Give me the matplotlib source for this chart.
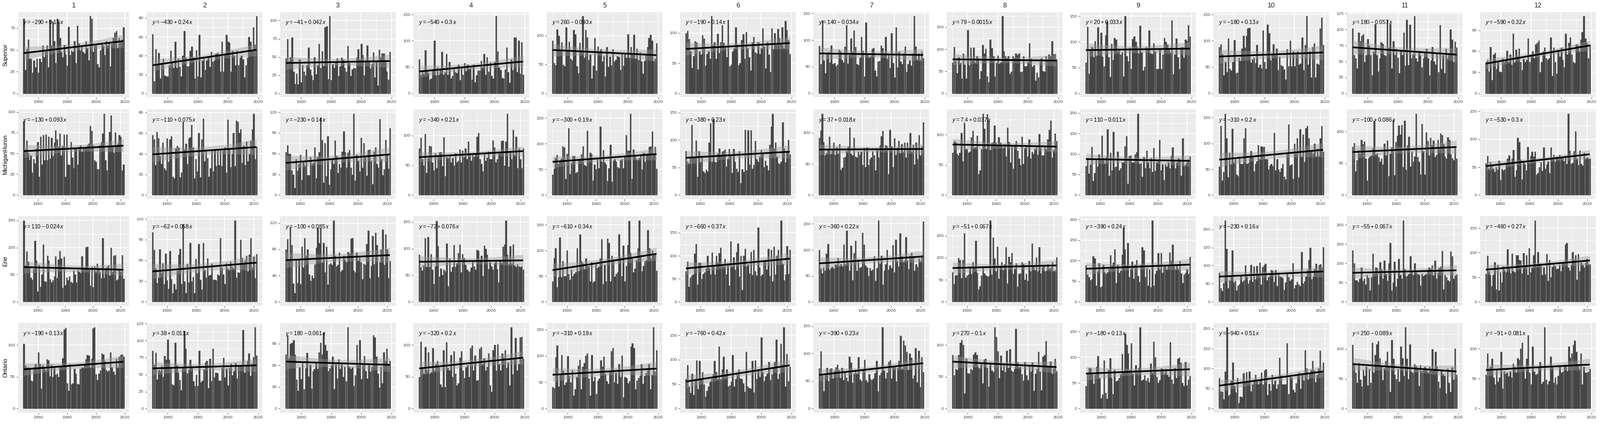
import numpy as np
import matplotlib
matplotlib.use("Agg")
import matplotlib.pyplot as plt
from matplotlib.ticker import MultipleLocator, FixedLocator

plt.rcParams['font.family'] = ['Liberation Sans', 'DejaVu Sans']
plt.rcParams['mathtext.fontset'] = 'custom'
plt.rcParams['mathtext.rm'] = 'Liberation Sans'
plt.rcParams['mathtext.it'] = 'Liberation Sans:italic'

lakes = ["Superior", "MichiganHuron", "Erie", "Ontario"]
months = [str(m) for m in range(1, 13)]
start_year = 1950
x_major = [1960, 1980, 2000, 2020]
x_minor = [1950, 1970, 1990, 2010]

# ---------------- Superior (1950-2019) ----------------
superior = [
    [86, 27, 51, 62, 40, 40, 24, 38, 30, 40, 24, 40, 36, 55, 42, 50, 55, 30, 85, 55,
     83, 60, 35, 86, 83, 64, 48, 42, 56, 45, 32, 77, 44, 49, 48, 60, 35, 78, 58, 50,
     55, 48, 46, 60, 52, 38, 89, 86, 48, 55, 57, 34, 30, 50, 58, 55, 44, 60, 55, 58,
     31, 57, 64, 70, 72, 52, 64, 60, 62, 76],
    [63, 13, 47, 30, 43, 16, 32, 37, 19, 18, 18, 30, 45, 34, 27, 55, 27, 37, 28, 18,
     40, 66, 38, 29, 29, 45, 50, 38, 16, 46, 18, 62, 17, 35, 38, 25, 35, 39, 28, 44,
     34, 35, 42, 43, 40, 23, 55, 23, 42, 62, 55, 54, 23, 45, 40, 30, 45, 30, 38, 40,
     36, 17, 30, 38, 60, 55, 45, 70, 52, 82],
    [48, 75, 44, 50, 77, 30, 13, 27, 12, 47, 15, 39, 30, 25, 39, 63, 33, 25, 18, 50,
     26, 39, 68, 35, 58, 38, 91, 92, 20, 106, 18, 40, 35, 43, 48, 24, 37, 49, 46, 35,
     30, 65, 42, 24, 33, 35, 34, 50, 61, 46, 68, 53, 25, 45, 66, 45, 34, 40, 56, 22,
     44, 11, 60, 50, 55, 55, 45, 30, 19, 57],
    [65, 35, 40, 36, 82, 45, 38, 26, 28, 44, 100, 34, 50, 35, 45, 79, 35, 40, 75, 35,
     60, 28, 33, 48, 40, 38, 55, 25, 50, 35, 58, 42, 55, 47, 51, 26, 55, 21, 34, 44,
     44, 62, 50, 75, 35, 69, 41, 59, 33, 28, 60, 147, 80, 50, 45, 29, 28, 46, 87, 40,
     20, 65, 45, 107, 107, 40, 100, 37, 97, 35],
    [92, 53, 49, 111, 100, 75, 89, 50, 47, 115, 75, 90, 60, 57, 110, 103, 47, 35, 88, 75,
     134, 62, 110, 97, 58, 67, 26, 48, 96, 40, 81, 70, 77, 55, 65, 29, 80, 46, 64, 49,
     77, 55, 58, 65, 63, 41, 70, 48, 70, 62, 103, 62, 80, 68, 102, 60, 78, 58, 71, 55,
     34, 56, 68, 80, 96, 102, 92, 56, 60, 87],
    [100, 103, 90, 70, 42, 62, 87, 85, 40, 70, 64, 96, 91, 46, 65, 70, 57, 128, 80, 85,
     57, 99, 67, 85, 113, 84, 76, 60, 122, 45, 48, 70, 75, 110, 80, 47, 50, 88, 98, 57,
     102, 75, 60, 38, 85, 94, 68, 66, 85, 65, 75, 108, 78, 41, 85, 64, 35, 108, 73, 100,
     80, 107, 92, 82, 110, 75, 120, 105, 88, 65],
    [89, 55, 137, 62, 38, 75, 78, 58, 90, 55, 57, 51, 54, 82, 79, 63, 58, 88, 128, 56,
     72, 103, 78, 118, 87, 55, 53, 67, 106, 80, 32, 133, 72, 67, 70, 83, 85, 43, 32, 60,
     61, 90, 85, 75, 106, 65, 72, 48, 113, 57, 30, 124, 49, 78, 60, 55, 75, 88, 40, 55,
     62, 52, 75, 145, 88, 64, 75, 63, 78, 66],
    [70, 105, 74, 46, 82, 69, 34, 91, 65, 34, 144, 64, 104, 74, 104, 70, 85, 80, 32, 51,
     110, 90, 102, 38, 25, 122, 103, 85, 38, 69, 86, 68, 70, 175, 95, 85, 80, 84, 44, 49,
     85, 81, 91, 87, 91, 48, 49, 85, 62, 62, 71, 113, 78, 60, 64, 29, 47, 36, 71, 80,
     50, 49, 85, 77, 88, 85, 118, 88, 89, 77],
    [60, 129, 38, 86, 90, 70, 101, 73, 128, 84, 118, 71, 53, 113, 140, 70, 32, 96, 65, 108,
     105, 82, 84, 75, 80, 33, 150, 72, 62, 89, 47, 106, 111, 100, 90, 78, 132, 80, 44, 52,
     90, 85, 122, 78, 77, 97, 82, 47, 48, 87, 48, 76, 108, 100, 95, 88, 80, 142, 37, 75,
     107, 70, 48, 86, 90, 69, 105, 102, 133, 111],
    [88, 93, 75, 34, 60, 40, 105, 47, 43, 60, 101, 38, 39, 68, 62, 85, 110, 87, 110, 124,
     125, 59, 65, 68, 58, 92, 50, 55, 48, 120, 60, 47, 131, 115, 63, 75, 93, 72, 85, 45,
     70, 54, 52, 46, 26, 84, 52, 100, 52, 80, 52, 78, 80, 55, 57, 107, 45, 92, 147, 55,
     80, 30, 88, 95, 30, 57, 55, 124, 144, 92],
    [102, 60, 55, 39, 95, 82, 90, 93, 49, 60, 85, 75, 60, 28, 65, 109, 60, 34, 55, 80,
     78, 60, 58, 115, 72, 109, 39, 82, 60, 70, 56, 32, 68, 60, 95, 43, 115, 44, 108, 55,
     62, 121, 55, 50, 65, 60, 41, 55, 65, 70, 55, 28, 52, 73, 50, 45, 63, 33, 107, 38,
     60, 32, 70, 55, 60, 100, 84, 49, 81, 72],
    [45, 47, 31, 66, 19, 55, 58, 35, 45, 31, 30, 50, 45, 48, 61, 45, 55, 41, 85, 44,
     62, 52, 64, 45, 33, 49, 45, 48, 78, 45, 55, 60, 50, 70, 72, 75, 30, 45, 60, 65,
     50, 48, 50, 80, 25, 65, 45, 28, 60, 52, 65, 48, 37, 85, 55, 72, 80, 55, 45, 43,
     70, 68, 60, 77, 87, 110, 78, 72, 50, 70],
]

# ---------------- Michigan-Huron (1950-2022) ----------------
michigan_huron = [
    [89, 55, 66, 51, 42, 48, 27, 43, 38, 56, 64, 22, 70, 37, 72, 42, 73, 42, 70, 44,
     69, 47, 63, 78, 67, 58, 74, 48, 59, 73, 22, 73, 37, 36, 64, 45, 32, 57, 57, 37,
     58, 60, 52, 56, 57, 58, 60, 62, 83, 77, 60, 42, 40, 31, 31, 60, 64, 74, 98, 42,
     30, 60, 76, 96, 58, 51, 75, 60, 62, 72, 70, 30, 37],
    [58, 54, 29, 61, 55, 38, 30, 51, 26, 24, 55, 32, 54, 57, 18, 16, 45, 48, 46, 17,
     22, 71, 44, 50, 30, 55, 56, 68, 46, 16, 35, 23, 60, 17, 54, 74, 33, 43, 36, 18,
     26, 43, 23, 44, 28, 43, 29, 44, 28, 43, 46, 22, 73, 45, 27, 40, 60, 28, 72, 71,
     60, 64, 31, 48, 29, 52, 33, 40, 53, 64, 79, 35, 47],
    [62, 72, 60, 60, 36, 30, 10, 52, 35, 45, 58, 22, 48, 43, 66, 29, 29, 55, 45, 47,
     69, 24, 55, 62, 112, 80, 18, 75, 27, 85, 15, 37, 52, 45, 79, 57, 32, 45, 40, 63,
     92, 62, 40, 61, 65, 40, 30, 118, 21, 58, 50, 34, 83, 40, 75, 56, 28, 65, 66, 50,
     16, 63, 69, 45, 40, 110, 52, 29, 37, 80, 58, 38, 97],
    [78, 96, 60, 50, 103, 37, 62, 83, 82, 55, 42, 70, 45, 65, 72, 72, 49, 97, 32, 64,
     62, 67, 55, 62, 50, 70, 55, 58, 77, 55, 75, 64, 78, 60, 90, 70, 58, 70, 64, 70,
     98, 104, 60, 52, 40, 70, 58, 63, 73, 60, 60, 92, 80, 55, 60, 73, 70, 91, 92, 50,
     90, 137, 48, 72, 60, 110, 68, 98, 45, 78, 60, 45, 78],
    [40, 51, 72, 78, 61, 65, 71, 95, 93, 32, 81, 130, 41, 63, 76, 76, 43, 45, 68, 70,
     80, 95, 59, 57, 125, 68, 83, 80, 28, 60, 50, 70, 52, 134, 65, 88, 64, 60, 27, 52,
     98, 26, 67, 70, 65, 55, 52, 68, 70, 52, 76, 117, 87, 87, 159, 32, 89, 75, 70, 68,
     72, 79, 50, 83, 65, 77, 82, 94, 95, 124, 80, 94, 51],
    [80, 60, 58, 70, 127, 67, 68, 99, 33, 80, 60, 70, 43, 40, 46, 43, 95, 130, 60, 138,
     60, 59, 75, 85, 70, 79, 80, 83, 52, 65, 84, 73, 40, 84, 60, 48, 42, 80, 22, 47,
     42, 119, 45, 118, 56, 118, 48, 55, 98, 65, 60, 70, 82, 75, 51, 62, 54, 45, 91, 124,
     148, 85, 95, 70, 58, 57, 60, 132, 85, 59, 80, 100, 74],
    [92, 104, 131, 85, 64, 67, 73, 94, 66, 74, 84, 65, 77, 66, 82, 41, 44, 60, 61, 71,
     78, 108, 66, 64, 92, 62, 60, 70, 65, 70, 48, 76, 45, 77, 48, 58, 60, 71, 64, 40,
     75, 60, 80, 95, 103, 72, 80, 78, 34, 105, 78, 45, 91, 65, 76, 87, 67, 82, 70, 84,
     60, 84, 75, 100, 70, 81, 49, 84, 58, 96, 64, 78, 117],
    [70, 90, 88, 68, 66, 70, 103, 56, 120, 76, 76, 70, 72, 96, 106, 78, 80, 98, 35, 41,
     76, 135, 110, 76, 134, 123, 75, 86, 88, 115, 87, 83, 96, 87, 82, 78, 84, 64, 112, 88,
     54, 83, 44, 82, 90, 74, 60, 50, 97, 52, 78, 80, 64, 92, 60, 72, 68, 76, 80, 67,
     101, 78, 66, 66, 80, 76, 92, 108, 123, 62, 75, 102, 90],
    [71, 90, 53, 75, 118, 35, 54, 88, 70, 99, 86, 145, 90, 78, 93, 161, 48, 103, 60, 154,
     68, 70, 106, 60, 65, 80, 80, 119, 144, 28, 95, 97, 80, 80, 100, 105, 199, 76, 78, 45,
     93, 66, 108, 80, 65, 90, 56, 115, 59, 80, 82, 135, 60, 75, 37, 75, 70, 80, 65, 96,
     116, 84, 65, 80, 90, 88, 47, 138, 72, 75, 80, 86, 94],
    [55, 134, 28, 45, 158, 110, 35, 82, 60, 129, 63, 70, 40, 37, 75, 60, 60, 110, 130, 60,
     62, 75, 85, 75, 46, 60, 66, 97, 70, 95, 94, 94, 70, 70, 50, 57, 60, 56, 120, 48,
     70, 50, 45, 52, 60, 36, 30, 80, 137, 57, 59, 31, 100, 80, 110, 35, 128, 75, 117, 65,
     130, 134, 110, 83, 85, 80, 100, 75, 90, 76, 110, 134, 84],
    [76, 82, 37, 55, 71, 65, 87, 80, 84, 57, 23, 58, 61, 62, 74, 117, 64, 66, 60, 52,
     57, 48, 81, 62, 86, 30, 65, 75, 118, 31, 83, 93, 109, 95, 110, 44, 117, 40, 78, 92,
     45, 68, 52, 61, 128, 60, 52, 32, 112, 69, 32, 98, 85, 62, 90, 78, 86, 60, 63, 87,
     72, 97, 94, 80, 61, 57, 91, 87, 64, 58, 55, 75, 57],
    [57, 70, 47, 60, 52, 47, 41, 50, 45, 62, 27, 47, 44, 46, 57, 65, 71, 55, 65, 81,
     33, 44, 103, 95, 63, 28, 59, 55, 44, 86, 59, 70, 78, 69, 78, 37, 40, 50, 59, 43,
     85, 47, 55, 60, 40, 85, 66, 72, 60, 68, 64, 72, 68, 67, 61, 70, 56, 146, 80, 56,
     58, 79, 114, 65, 54, 80, 56, 53, 76, 65, 67, 65, 65],
]

# ---------------- Erie (1950-2022) ----------------
erie = [
    [150, 67, 93, 74, 65, 45, 41, 60, 112, 76, 19, 68, 28, 50, 105, 38, 37, 85, 76, 42,
     36, 40, 47, 84, 44, 78, 94, 80, 26, 83, 31, 45, 40, 47, 37, 35, 57, 50, 36, 58,
     55, 52, 84, 63, 60, 101, 102, 62, 30, 64, 27, 65, 55, 70, 60, 54, 44, 117, 44, 60,
     64, 67, 48, 100, 55, 85, 86, 40, 42, 60, 55, 86, 43],
    [101, 75, 48, 27, 35, 76, 42, 56, 26, 70, 31, 19, 74, 33, 13, 26, 18, 45, 68, 77,
     26, 112, 30, 13, 55, 28, 85, 30, 36, 13, 62, 41, 84, 32, 18, 85, 46, 35, 63, 38,
     39, 55, 32, 32, 31, 40, 38, 92, 50, 40, 26, 56, 48, 46, 58, 51, 48, 118, 35, 43,
     42, 90, 64, 55, 60, 67, 44, 68, 92, 50, 65, 34, 69],
    [80, 95, 62, 114, 86, 28, 13, 65, 29, 65, 27, 84, 52, 97, 70, 80, 42, 32, 40, 36,
     57, 82, 112, 90, 112, 60, 90, 45, 84, 26, 57, 59, 56, 124, 70, 54, 56, 75, 46, 48,
     70, 64, 60, 76, 73, 96, 97, 47, 45, 75, 63, 68, 60, 34, 58, 56, 88, 108, 36, 55,
     100, 57, 105, 86, 38, 60, 80, 110, 56, 103, 80, 36, 62],
    [89, 65, 58, 68, 120, 65, 122, 65, 90, 60, 33, 66, 152, 105, 47, 62, 50, 60, 57, 110,
     29, 82, 56, 65, 107, 65, 72, 92, 108, 55, 90, 83, 69, 60, 57, 56, 64, 75, 66, 60,
     98, 96, 78, 87, 48, 106, 100, 89, 61, 74, 66, 60, 72, 75, 61, 36, 76, 72, 104, 108,
     153, 89, 70, 105, 71, 108, 68, 65, 70, 66, 65, 66, 60],
    [40, 86, 105, 29, 48, 125, 48, 80, 50, 50, 100, 55, 43, 63, 50, 55, 58, 105, 60, 132,
     80, 75, 64, 85, 70, 70, 40, 77, 38, 40, 75, 66, 68, 85, 122, 35, 72, 40, 123, 115,
     40, 90, 83, 49, 55, 58, 132, 87, 50, 110, 40, 70, 111, 158, 95, 85, 58, 65, 82, 105,
     159, 91, 60, 70, 80, 82, 140, 105, 85, 100, 91, 93, 61],
    [66, 87, 33, 52, 57, 60, 105, 126, 37, 85, 85, 50, 61, 64, 72, 100, 73, 60, 107, 79,
     60, 100, 85, 106, 117, 78, 77, 93, 60, 84, 35, 131, 77, 97, 70, 108, 127, 55, 100, 26,
     100, 115, 77, 82, 62, 108, 58, 113, 67, 57, 162, 75, 56, 60, 88, 90, 70, 115, 56, 113,
     45, 120, 60, 100, 113, 90, 177, 83, 47, 60, 121, 61, 113],
    [100, 64, 55, 66, 60, 93, 111, 62, 65, 67, 64, 72, 71, 85, 69, 72, 68, 110, 72, 137,
     75, 60, 108, 42, 94, 118, 60, 82, 65, 67, 133, 110, 70, 66, 50, 65, 60, 62, 88, 40,
     65, 157, 73, 89, 33, 60, 72, 100, 62, 70, 65, 109, 57, 120, 78, 68, 132, 88, 77, 80,
     125, 80, 63, 89, 95, 88, 60, 72, 67, 84, 79, 90, 155],
    [67, 41, 60, 61, 100, 95, 54, 95, 156, 55, 60, 62, 80, 63, 90, 78, 138, 66, 28, 35,
     60, 80, 65, 60, 57, 58, 185, 62, 146, 98, 70, 125, 53, 80, 90, 72, 85, 124, 42, 102,
     90, 111, 63, 75, 88, 34, 64, 65, 90, 86, 50, 64, 48, 93, 70, 133, 80, 72, 101, 70,
     124, 65, 78, 82, 70, 71, 85, 74, 78, 90, 70, 72, 101],
    [89, 66, 60, 52, 55, 111, 106, 40, 75, 94, 36, 38, 90, 72, 68, 72, 80, 113, 88, 95,
     128, 46, 90, 70, 76, 114, 180, 128, 89, 143, 60, 80, 98, 56, 90, 102, 63, 48, 90, 133,
     125, 60, 82, 40, 78, 35, 198, 40, 68, 76, 119, 80, 119, 70, 86, 90, 78, 90, 120, 100,
     139, 87, 80, 90, 80, 99, 69, 46, 67, 70, 80, 68, 109],
    [80, 37, 30, 52, 225, 147, 38, 60, 70, 142, 53, 58, 31, 45, 49, 72, 55, 60, 100, 70,
     50, 60, 102, 55, 98, 62, 99, 72, 108, 48, 96, 100, 105, 60, 68, 72, 88, 86, 55, 87,
     43, 78, 70, 68, 65, 33, 54, 78, 68, 58, 62, 107, 37, 46, 55, 48, 43, 138, 50, 56,
     70, 88, 115, 150, 62, 70, 90, 105, 86, 100, 104, 95, 151],
    [134, 100, 56, 56, 52, 60, 90, 55, 60, 45, 70, 63, 30, 65, 125, 72, 90, 88, 45, 103,
     85, 60, 107, 72, 54, 100, 153, 30, 50, 105, 40, 60, 112, 70, 60, 212, 85, 66, 68, 73,
     118, 80, 70, 100, 78, 73, 70, 42, 73, 67, 70, 72, 84, 90, 86, 95, 68, 107, 60, 75,
     88, 92, 133, 33, 70, 64, 56, 53, 131, 118, 60, 68, 71],
    [57, 94, 62, 55, 32, 55, 81, 25, 75, 23, 60, 40, 72, 65, 60, 107, 70, 58, 98, 62,
     60, 95, 95, 85, 84, 58, 99, 72, 95, 55, 109, 60, 70, 95, 166, 72, 101, 78, 74, 55,
     70, 56, 97, 43, 85, 50, 71, 75, 73, 67, 68, 75, 62, 80, 81, 117, 120, 70, 63, 75,
     101, 85, 95, 45, 97, 62, 80, 75, 70, 80, 87, 77, 77],
]

# ---------------- Ontario (1950-2019) ----------------
ontario = [
    [102, 67, 64, 65, 62, 44, 43, 65, 70, 62, 88, 70, 31, 68, 65, 60, 77, 76, 51, 69,
     50, 64, 53, 55, 50, 67, 66, 79, 124, 127, 40, 28, 70, 38, 40, 62, 55, 39, 38, 62,
     65, 64, 70, 77, 84, 83, 65, 78, 126, 128, 54, 45, 55, 60, 87, 85, 75, 61, 58, 60,
     88, 65, 58, 53, 78, 65, 82, 84, 85, 82],
    [85, 65, 82, 43, 57, 55, 63, 47, 77, 72, 102, 72, 60, 36, 34, 97, 64, 53, 42, 27,
     60, 114, 88, 52, 58, 72, 60, 40, 33, 50, 33, 85, 39, 41, 58, 68, 70, 30, 73, 40,
     88, 46, 53, 52, 41, 41, 60, 75, 46, 59, 34, 60, 66, 49, 55, 67, 44, 62, 62, 64,
     116, 53, 62, 70, 81, 48, 66, 76, 120, 78],
    [75, 102, 70, 90, 91, 95, 75, 40, 25, 57, 41, 63, 27, 56, 77, 45, 61, 28, 52, 55,
     63, 55, 78, 91, 75, 105, 88, 80, 52, 56, 60, 72, 27, 62, 42, 68, 55, 62, 44, 58,
     38, 113, 58, 55, 57, 31, 46, 88, 60, 95, 41, 60, 73, 52, 42, 62, 51, 58, 102, 99,
     72, 48, 29, 58, 35, 78, 66, 83, 60, 66],
    [50, 105, 64, 55, 97, 60, 88, 55, 57, 95, 60, 70, 75, 66, 38, 34, 92, 34, 104, 64,
     60, 84, 50, 90, 55, 36, 40, 80, 90, 60, 48, 65, 68, 50, 95, 99, 60, 83, 44, 45,
     94, 97, 70, 79, 60, 66, 87, 36, 26, 92, 100, 60, 101, 70, 60, 87, 80, 92, 64, 72,
     36, 128, 54, 80, 111, 60, 70, 112, 113, 78],
    [41, 39, 98, 120, 42, 66, 102, 72, 45, 50, 100, 62, 50, 73, 25, 37, 60, 82, 93, 37,
     80, 87, 101, 105, 57, 25, 102, 52, 60, 28, 53, 57, 92, 80, 99, 66, 52, 47, 70, 109,
     115, 50, 68, 47, 85, 60, 101, 22, 60, 58, 48, 52, 118, 124, 115, 37, 53, 58, 62, 85,
     47, 62, 67, 72, 85, 37, 64, 155, 70, 111],
    [60, 89, 45, 32, 72, 28, 60, 99, 40, 98, 60, 75, 50, 24, 36, 45, 55, 60, 70, 98,
     75, 60, 127, 60, 80, 106, 70, 80, 45, 47, 55, 110, 45, 60, 70, 80, 62, 60, 52, 34,
     116, 45, 42, 41, 98, 33, 99, 60, 80, 65, 146, 75, 56, 66, 72, 96, 58, 70, 83, 96,
     141, 60, 72, 133, 90, 167, 45, 112, 56, 86],
    [73, 104, 60, 31, 60, 74, 50, 72, 73, 55, 68, 75, 80, 70, 56, 74, 52, 65, 57, 50,
     94, 84, 47, 63, 70, 63, 93, 53, 50, 70, 89, 52, 48, 62, 54, 52, 55, 64, 87, 31,
     60, 65, 148, 69, 55, 65, 85, 88, 55, 76, 75, 50, 74, 87, 132, 72, 123, 115, 103, 70,
     100, 92, 55, 60, 110, 48, 105, 39, 93, 66],
    [84, 52, 62, 61, 84, 103, 108, 100, 24, 78, 56, 55, 62, 61, 85, 88, 84, 65, 63, 70,
     40, 77, 78, 64, 35, 72, 60, 57, 128, 113, 90, 48, 83, 60, 70, 57, 91, 64, 93, 60,
     58, 62, 125, 73, 65, 66, 54, 44, 73, 52, 45, 68, 58, 72, 28, 55, 62, 89, 58, 29,
     82, 84, 106, 67, 65, 74, 55, 63, 78, 59],
    [44, 67, 80, 78, 68, 48, 66, 82, 102, 60, 20, 27, 94, 31, 19, 75, 98, 60, 28, 75,
     53, 55, 60, 67, 107, 72, 146, 124, 108, 75, 127, 68, 45, 85, 70, 80, 159, 55, 57, 65,
     55, 60, 51, 88, 70, 130, 100, 62, 50, 56, 78, 77, 68, 77, 66, 62, 129, 57, 48, 80,
     60, 97, 99, 90, 50, 44, 91, 45, 57, 64],
    [77, 43, 42, 23, 93, 204, 32, 35, 70, 115, 56, 40, 76, 14, 30, 28, 88, 66, 91, 64,
     92, 43, 60, 70, 85, 68, 60, 73, 90, 60, 95, 98, 34, 62, 45, 84, 60, 70, 50, 60,
     128, 83, 61, 60, 60, 163, 37, 80, 78, 47, 40, 63, 84, 90, 50, 88, 70, 146, 100, 72,
     90, 96, 120, 95, 66, 85, 100, 145, 90, 116],
    [107, 77, 60, 43, 77, 49, 37, 65, 55, 70, 39, 67, 43, 111, 60, 90, 108, 113, 85, 72,
     48, 68, 80, 95, 70, 28, 115, 84, 57, 50, 67, 45, 104, 85, 55, 137, 84, 50, 108, 62,
     60, 75, 72, 67, 38, 73, 63, 65, 70, 64, 60, 70, 67, 100, 67, 95, 70, 45, 34, 66,
     58, 55, 25, 68, 43, 28, 69, 49, 101, 57],
    [56, 92, 66, 70, 83, 52, 40, 64, 45, 52, 95, 33, 63, 58, 60, 54, 62, 52, 75, 70,
     60, 84, 81, 100, 110, 68, 50, 83, 122, 60, 40, 104, 62, 56, 58, 70, 78, 41, 45, 136,
     48, 40, 46, 87, 70, 43, 52, 40, 55, 72, 60, 62, 70, 73, 63, 104, 85, 92, 106, 113,
     95, 74, 66, 92, 40, 70, 60, 60, 62, 66],
]

# ---------------- equation labels (as printed) ----------------
superior_eq = ["-290 + 0.17", "-430 + 0.24", "-41 + 0.042", "-540 + 0.3", "260 - 0.093", "-190 + 0.14",
               "140 - 0.034", "79 - 0.0015", "20 + 0.033", "-180 + 0.13", "180 - 0.057", "-590 + 0.32"]
michigan_huron_eq = ["-130 + 0.093", "-110 + 0.075", "-230 + 0.14", "-340 + 0.21", "-300 + 0.19", "-380 + 0.23",
                     "37 + 0.018", "7.4 + 0.037", "110 - 0.011", "-310 + 0.2", "-100 + 0.086", "-530 + 0.3"]
erie_eq = ["110 - 0.024", "-62 + 0.058", "-100 + 0.085", "-72 + 0.076", "-610 + 0.34", "-660 + 0.37",
           "-360 + 0.22", "-51 + 0.067", "-390 + 0.24", "-230 + 0.16", "-55 + 0.067", "-460 + 0.27"]
ontario_eq = ["-190 + 0.13", "38 + 0.011", "180 - 0.061", "-320 + 0.2", "-310 + 0.19", "-760 + 0.42",
              "-390 + 0.23", "270 - 0.1", "-180 + 0.13", "-940 + 0.51", "250 - 0.089", "-91 + 0.081"]

# y-axis break spacing
superior_ystep = [25, 20, 25, 50, 50, 50, 50, 50, 50, 50, 25, 30]
michigan_huron_ystep = [25, 20, 30, 50, 50, 50, 50, 50, 50, 50, 50, 50]
erie_ystep = [50, 30, 40, 50, 50, 50, 50, 50, 50, 50, 50, 50]
ontario_ystep = [50, 25, 30, 50, 50, 50, 50, 50, 50, 50, 50, 50]

all_data = [superior, michigan_huron, erie, ontario]
all_eq = [superior_eq, michigan_huron_eq, erie_eq, ontario_eq]
all_step = [superior_ystep, michigan_huron_ystep, erie_ystep, ontario_ystep]

W, H = 3000, 800
fig = plt.figure(figsize=(30, 8), dpi=100)
row_top = [23, 205, 405, 605]
row_bot = [182, 373, 573, 773]
BAR = "#434343"
TICK_TXT = "#4D4D4D"

for r, lake in enumerate(lakes):
    for c in range(12):
        right = 242 + 250 * c
        left = 34 if c == 0 else right - 217
        ax = fig.add_axes([left / W, 1 - row_bot[r] / H, (right - left) / W,
                           (row_bot[r] - row_top[r]) / H])
        vals = np.asarray(all_data[r][c], dtype=float)
        yrs = start_year + np.arange(len(vals))
        ax.set_facecolor("#EBEBEB")
        for s in ax.spines.values():
            s.set_visible(False)
        ax.bar(yrs, vals, width=0.9, color=BAR, edgecolor=BAR, linewidth=0.4, zorder=2)

        # linear fit with 95% confidence band
        b, a = np.polyfit(yrs, vals, 1)
        xs = np.linspace(yrs[0], yrs[-1], 80)
        yhat = a + b * xs
        n = len(vals)
        resid = vals - (a + b * yrs)
        s_err = np.sqrt(np.sum(resid ** 2) / (n - 2))
        sxx = np.sum((yrs - yrs.mean()) ** 2)
        se = s_err * np.sqrt(1.0 / n + (xs - yrs.mean()) ** 2 / sxx)
        tq = 1.995
        lo, hi = yhat - tq * se, yhat + tq * se
        ax.fill_between(xs, lo, hi, color="#999999", alpha=0.4, lw=0, zorder=3)
        ax.plot(xs, yhat, color="black", lw=2.2, zorder=4, solid_capstyle="butt")

        # limits like ggplot's 5% expansion
        x0, x1 = yrs[0] - 0.45, yrs[-1] + 0.45
        xr = x1 - x0
        ax.set_xlim(x0 - 0.05 * xr, x1 + 0.05 * xr)
        top = max(vals.max(), hi.max())
        ax.set_ylim(-0.05 * top, 1.05 * top)

        step = all_step[r][c]
        ax.xaxis.set_major_locator(FixedLocator(x_major))
        ax.xaxis.set_minor_locator(FixedLocator(x_minor))
        ax.yaxis.set_major_locator(MultipleLocator(step))
        ax.yaxis.set_minor_locator(MultipleLocator(step / 2))
        ax.grid(which="major", color="white", lw=1.1, zorder=0)
        ax.grid(which="minor", color="white", lw=0.55, zorder=0)
        ax.set_axisbelow(True)
        ax.tick_params(which="major", length=2.5, width=0.6, color="#333333",
                       labelsize=6, labelcolor=TICK_TXT, pad=1.5)
        ax.tick_params(which="minor", length=0)
        ax.yaxis.set_major_formatter(matplotlib.ticker.FuncFormatter(lambda v, p: f"{v:g}"))

        eq = all_eq[r][c]
        ax.text(0.045, 0.925, f"$y = {eq}\\,x$", transform=ax.transAxes,
                ha="left", va="top", fontsize=7.5, color="black", zorder=5)

        if r == 0:
            ax.text(0.5, 1 + 12 / (row_bot[r] - row_top[r]), months[c], transform=ax.transAxes,
                    ha="center", va="center", fontsize=9, color="#1A1A1A")

    fig.text(10 / W, 1 - (row_top[r] + row_bot[r]) / 2 / H, lake, rotation=90,
             ha="center", va="center", fontsize=8, color="black")

fig.savefig("out.png", dpi=100, facecolor="white")
